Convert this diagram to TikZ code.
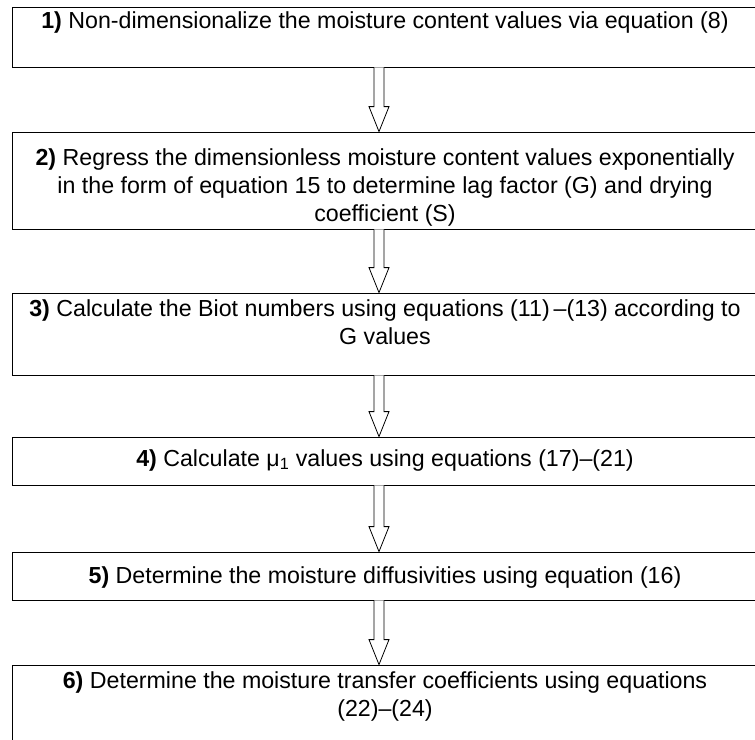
\documentclass[tikz,border=0pt]{standalone}
\usepackage{fontspec}
\setmainfont{Liberation Sans}
\usetikzlibrary{calc,positioning}

\newcommand{\hollowarrow}[2]{%
  \draw[arrowline] ($(#1.south -| ax)+(-5,0)$) -- ($(#2.north -| ax)+(-5,25)$) -- ++(-5,0)
    -- (#2.north -| ax) -- ($(#2.north -| ax)+(10,25)$) -- ++(-5,0) -- ($(#1.south -| ax)+(5,0)$);}

\begin{document}
\begin{tikzpicture}[x=1pt, y=1pt,
  stepbox/.style={draw, line width=0.8pt, minimum width=746pt, inner sep=0pt},
  steptext/.style={align=center, inner sep=0pt, font=\fontsize{23.2}{28}\selectfont},
  arrowline/.style={draw, fill=white, line width=0.8pt, line join=miter}]
\useasboundingbox (0,0) rectangle (755,-739);
\clip (0,0) rectangle (755,-739);
\coordinate (ax) at (379,0);

\node[stepbox, minimum height=60pt] (b1) at (385,-37) {};
\node[steptext] (t1) at (385,-23) {\textbf{1)} Non-dimensionalize the moisture content values via equation (8)};

\node[stepbox, minimum height=97pt] (b2) at (385,-180.5) {};
\node[steptext] (t2) at (385,-187) {\textbf{2)} Regress the dimensionless moisture content values exponentially\\
  in the form of equation 15 to determine lag factor (G) and drying\\ coefficient (S)};

\node[stepbox, minimum height=82pt] (b3) at (385,-334) {};
\node[steptext] (t3) at (385,-322) {\textbf{3)} Calculate the Biot numbers using equations (11)\,–(13) according to\\ G values};

\node[stepbox, minimum height=48pt] (b4) at (385,-461) {};
\node[steptext] (t4) at (385,-460) {\textbf{4)} Calculate μ\textsubscript{1} values using equations (17)–(21)};

\node[stepbox, minimum height=48pt] (b5) at (385,-576) {};
\node[steptext] (t5) at (385,-577) {\textbf{5)} Determine the moisture diffusivities using equation (16)};

\node[stepbox, minimum height=90pt] (b6) at (385,-710) {};
\node[steptext] (t6) at (385,-696) {\textbf{6)} Determine the moisture transfer coefficients using equations\\ (22)–(24)};

\hollowarrow{b1}{b2}
\hollowarrow{b2}{b3}
\hollowarrow{b3}{b4}
\hollowarrow{b4}{b5}
\hollowarrow{b5}{b6}
\end{tikzpicture}
\end{document}
